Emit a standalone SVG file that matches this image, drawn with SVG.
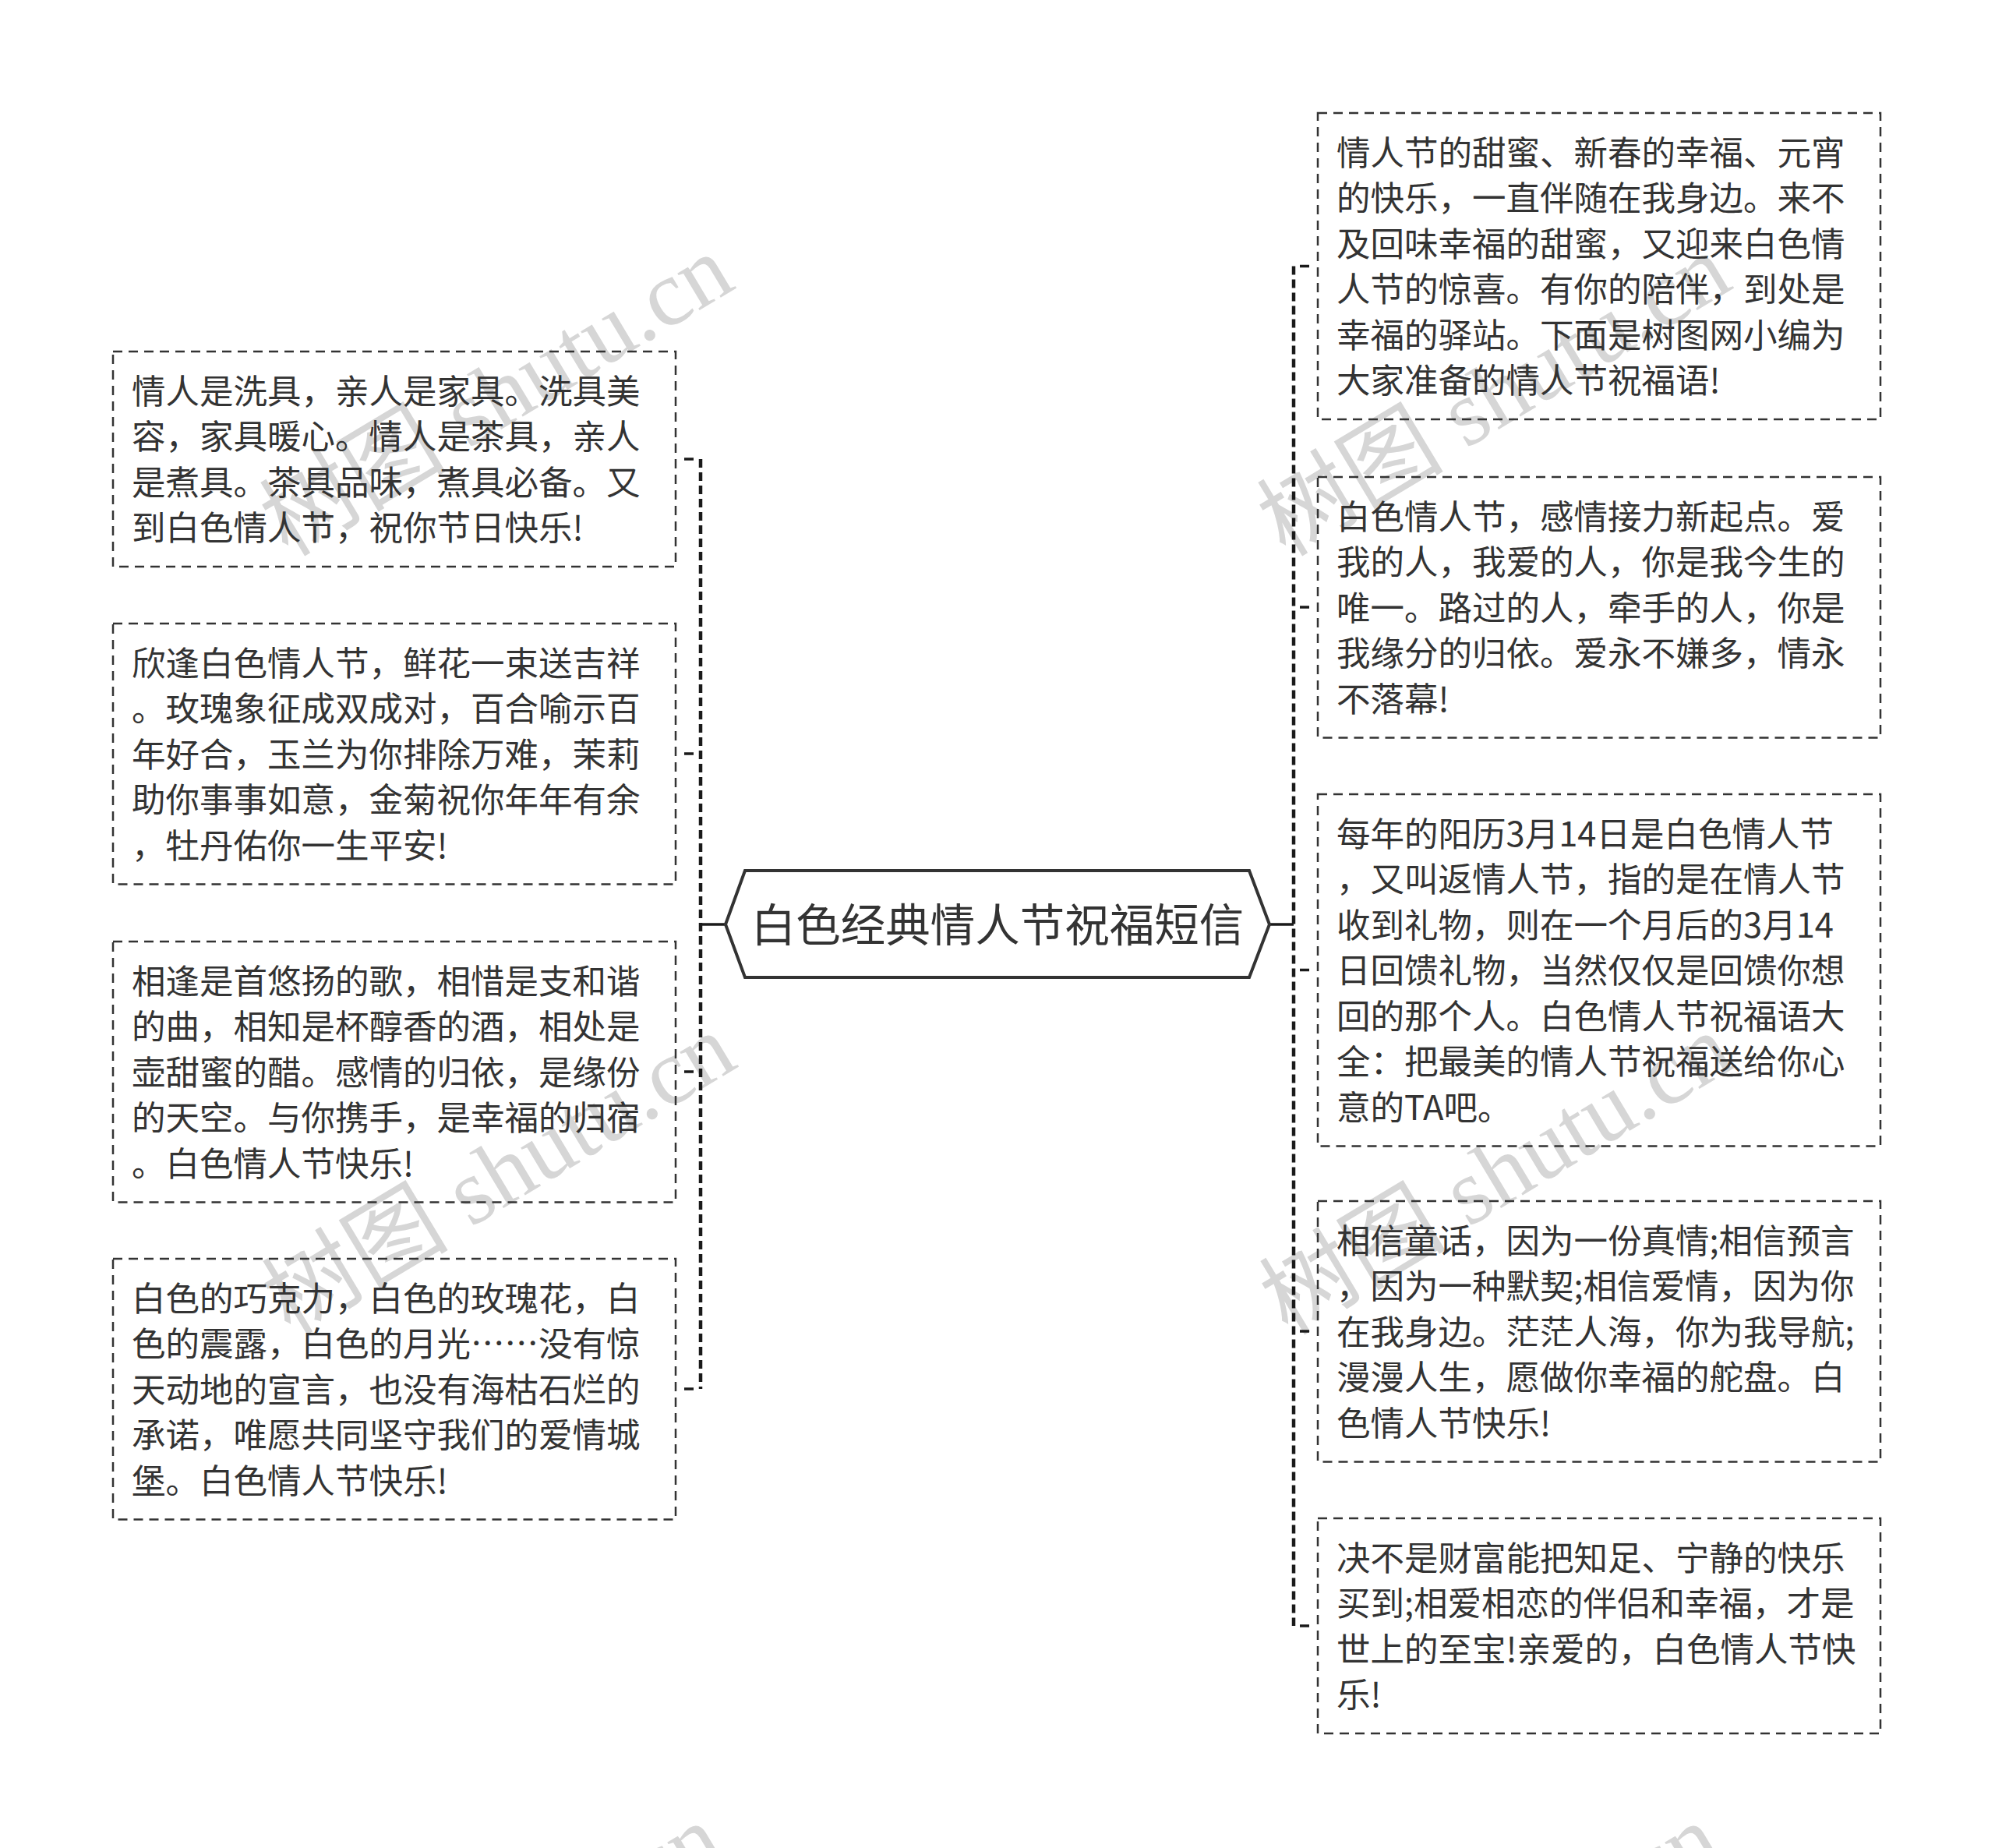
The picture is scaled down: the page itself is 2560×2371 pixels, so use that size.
<svg xmlns="http://www.w3.org/2000/svg" width="2560" height="2371" viewBox="0 0 2560 2371">
<style>
.bg{fill:#ffffff}
.wm{font-family:"Liberation Serif","Noto Sans CJK SC",serif;font-size:120px;fill:#d6d6d6;text-anchor:middle}
.box{fill:none;stroke:#333333;stroke-width:2.5;stroke-dasharray:12 8}
.t{font-family:"Noto Sans CJK SC","Noto Sans",sans-serif;font-size:43.5px;fill:#333333}
.hex{fill:#ffffff;stroke:#333333;stroke-width:4;stroke-linejoin:miter}
.ht{font-family:"Noto Sans CJK SC","Noto Sans",sans-serif;font-size:57.5px;fill:#333333;text-anchor:middle}
.trunk{fill:none;stroke:#1a1a1a;stroke-width:4.5;stroke-dasharray:11 6}
.stub{fill:none;stroke:#1a1a1a;stroke-width:3.5;stroke-dasharray:0 11 12 20}
.solid{fill:none;stroke:#1a1a1a;stroke-width:3.5}
</style>
<rect class="bg" x="0" y="0" width="2560" height="2371"/>
<g id="watermark">
<text class="wm" transform="translate(658,542) rotate(-31)">树图 shutu.cn</text>
<text class="wm" transform="translate(1938,542) rotate(-31)">树图 shutu.cn</text>
<text class="wm" transform="translate(661,1541) rotate(-31)">树图 shutu.cn</text>
<text class="wm" transform="translate(1941,1541) rotate(-31)">树图 shutu.cn</text>
<text class="wm" transform="translate(645,2555) rotate(-31)">树图 shutu.cn</text>
<text class="wm" transform="translate(1925,2555) rotate(-31)">树图 shutu.cn</text>
</g>
<g id="connectors">
<line class="trunk" x1="899" y1="589" x2="899" y2="1782"/>
<line class="trunk" x1="1660" y1="341.5" x2="1660" y2="2086"/>
<line class="solid" x1="899" y1="1186" x2="931" y2="1186"/>
<line class="solid" x1="1629" y1="1186" x2="1660" y2="1186"/>
<line class="stub" x1="867" y1="589" x2="899" y2="589"/>
<line class="stub" x1="867" y1="967" x2="899" y2="967"/>
<line class="stub" x1="867" y1="1375" x2="899" y2="1375"/>
<line class="stub" x1="867" y1="1782" x2="899" y2="1782"/>
<line class="stub" x1="1691" y1="341.5" x2="1660" y2="341.5"/>
<line class="stub" x1="1691" y1="779" x2="1660" y2="779"/>
<line class="stub" x1="1691" y1="1244.5" x2="1660" y2="1244.5"/>
<line class="stub" x1="1691" y1="1708" x2="1660" y2="1708"/>
<line class="stub" x1="1691" y1="2086" x2="1660" y2="2086"/>
</g>
<g id="root">
<polygon class="hex" points="931,1186 956,1117 1603,1117 1629,1186 1603,1254 956,1254"/>
<text class="ht" x="1280" y="1208">白色经典情人节祝福短信</text>
</g>
<g id="L1">
<rect class="box" x="145" y="451" width="722" height="276"/>
<text class="t" x="169" y="517.75">情人是洗具，亲人是家具。洗具美</text>
<text class="t" x="169" y="576.25">容，家具暖心。情人是茶具，亲人</text>
<text class="t" x="169" y="634.75">是煮具。茶具品味，煮具必备。又</text>
<text class="t" x="169" y="693.25">到白色情人节，祝你节日快乐!</text>
</g>
<g id="L2">
<rect class="box" x="145" y="800" width="722" height="334.5"/>
<text class="t" x="169" y="866.5">欣逢白色情人节，鲜花一束送吉祥</text>
<text class="t" x="169" y="925">。玫瑰象征成双成对，百合喻示百</text>
<text class="t" x="169" y="983.5">年好合，玉兰为你排除万难，茉莉</text>
<text class="t" x="169" y="1042">助你事事如意，金菊祝你年年有余</text>
<text class="t" x="169" y="1100.5">，牡丹佑你一生平安!</text>
</g>
<g id="L3">
<rect class="box" x="145" y="1208" width="722" height="334.5"/>
<text class="t" x="169" y="1274.5">相逢是首悠扬的歌，相惜是支和谐</text>
<text class="t" x="169" y="1333">的曲，相知是杯醇香的酒，相处是</text>
<text class="t" x="169" y="1391.5">壶甜蜜的醋。感情的归依，是缘份</text>
<text class="t" x="169" y="1450">的天空。与你携手，是幸福的归宿</text>
<text class="t" x="169" y="1508.5">。白色情人节快乐!</text>
</g>
<g id="L4">
<rect class="box" x="145" y="1615" width="722" height="334.5"/>
<text class="t" x="169" y="1681.5">白色的巧克力，白色的玫瑰花，白</text>
<text class="t" x="169" y="1740">色的震露，白色的月光……没有惊</text>
<text class="t" x="169" y="1798.5">天动地的宣言，也没有海枯石烂的</text>
<text class="t" x="169" y="1857">承诺，唯愿共同坚守我们的爱情城</text>
<text class="t" x="169" y="1915.5">堡。白色情人节快乐!</text>
</g>
<g id="R1">
<rect class="box" x="1691" y="145" width="722" height="393"/>
<text class="t" x="1715" y="211.75">情人节的甜蜜、新春的幸福、元宵</text>
<text class="t" x="1715" y="270.25">的快乐，一直伴随在我身边。来不</text>
<text class="t" x="1715" y="328.75">及回味幸福的甜蜜，又迎来白色情</text>
<text class="t" x="1715" y="387.25">人节的惊喜。有你的陪伴，到处是</text>
<text class="t" x="1715" y="445.75">幸福的驿站。下面是树图网小编为</text>
<text class="t" x="1715" y="504.25">大家准备的情人节祝福语!</text>
</g>
<g id="R2">
<rect class="box" x="1691" y="612" width="722" height="334.5"/>
<text class="t" x="1715" y="678.5">白色情人节，感情接力新起点。爱</text>
<text class="t" x="1715" y="737">我的人，我爱的人，你是我今生的</text>
<text class="t" x="1715" y="795.5">唯一。路过的人，牵手的人，你是</text>
<text class="t" x="1715" y="854">我缘分的归依。爱永不嫌多，情永</text>
<text class="t" x="1715" y="912.5">不落幕!</text>
</g>
<g id="R3">
<rect class="box" x="1691" y="1019" width="722" height="451.5"/>
<text class="t" x="1715" y="1085.5">每年的阳历3月14日是白色情人节</text>
<text class="t" x="1715" y="1144">，又叫返情人节，指的是在情人节</text>
<text class="t" x="1715" y="1202.5">收到礼物，则在一个月后的3月14</text>
<text class="t" x="1715" y="1261">日回馈礼物，当然仅仅是回馈你想</text>
<text class="t" x="1715" y="1319.5">回的那个人。白色情人节祝福语大</text>
<text class="t" x="1715" y="1378">全：把最美的情人节祝福送给你心</text>
<text class="t" x="1715" y="1436.5">意的TA吧。</text>
</g>
<g id="R4">
<rect class="box" x="1691" y="1541" width="722" height="334.5"/>
<text class="t" x="1715" y="1607.5">相信童话，因为一份真情;相信预言</text>
<text class="t" x="1715" y="1666">，因为一种默契;相信爱情，因为你</text>
<text class="t" x="1715" y="1724.5">在我身边。茫茫人海，你为我导航;</text>
<text class="t" x="1715" y="1783">漫漫人生，愿做你幸福的舵盘。白</text>
<text class="t" x="1715" y="1841.5">色情人节快乐!</text>
</g>
<g id="R5">
<rect class="box" x="1691" y="1948" width="722" height="276"/>
<text class="t" x="1715" y="2014.75">决不是财富能把知足、宁静的快乐</text>
<text class="t" x="1715" y="2073.25">买到;相爱相恋的伴侣和幸福，才是</text>
<text class="t" x="1715" y="2131.75">世上的至宝!亲爱的，白色情人节快</text>
<text class="t" x="1715" y="2190.25">乐!</text>
</g>
</svg>
